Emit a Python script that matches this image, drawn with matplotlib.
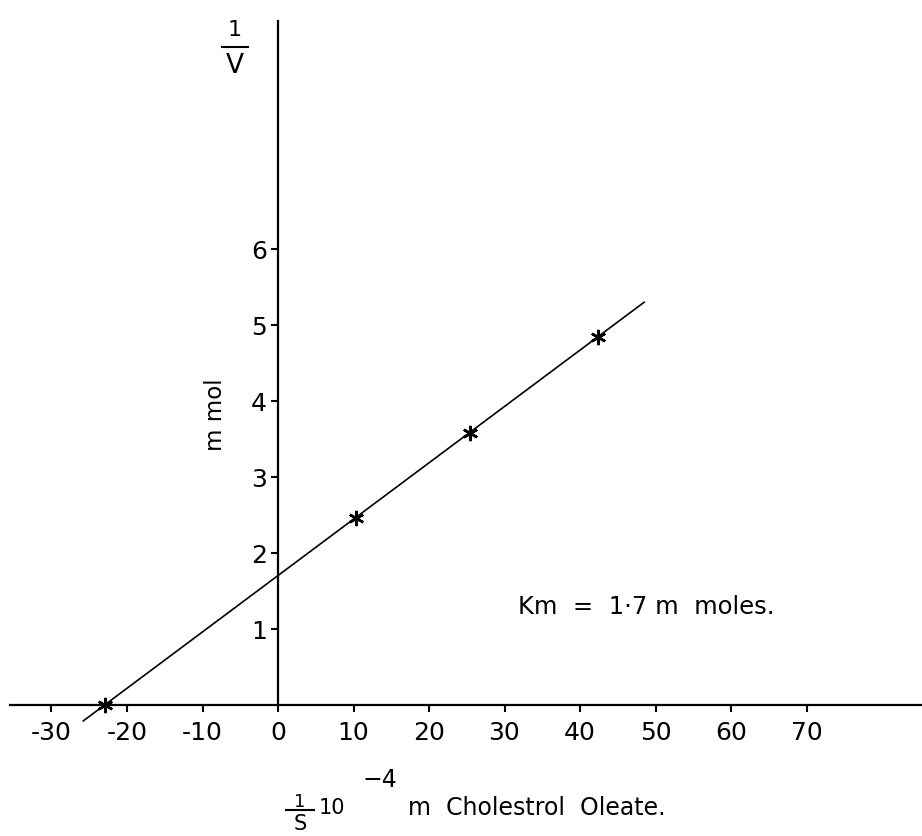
import matplotlib
matplotlib.use("Agg")
import matplotlib.pyplot as plt
from matplotlib.lines import Line2D

# ---- data ----
x_points = [-22.9, 10.3, 25.4, 42.4]
y_points = [0.0, 2.46, 3.58, 4.84]
x_line = [-25.8, 48.5]
y_line = [-0.21, 5.30]
x_ticks = [-30, -20, -10, 0, 10, 20, 30, 40, 50, 60, 70]
x_tick_labels = ["-30", "-20", "-10", "0", "10", "20", "30", "40", "50", "60", "70"]
y_ticks = [1, 2, 3, 4, 5, 6]
y_tick_labels = ["1", "2", "3", "4", "5", "6"]
km_text = "Km  =  1·7 m  moles."
y_unit = "m mol"
x_label_main = "m  Cholestrol  Oleate."

W, H = 922, 837
plt.rcParams['font.family'] = ['DejaVu Sans']
fig = plt.figure(figsize=(W / 100, H / 100), dpi=100)
ax = fig.add_axes([0, 0, 1, 1])

# pixel mapping: origin at (278, 706) px, 7.55 px per x unit, 76 px per y unit
x0, y0, sx, sy = 278.0, 706.0, 7.55, 76.0
ax.set_xlim(-x0 / sx, (W - x0) / sx)
ax.set_ylim(-(H - y0) / sy, y0 / sy)

def fx(px):
    return px / W

def fy(py):
    return 1 - py / H

for s in ['top', 'right']:
    ax.spines[s].set_visible(False)
ax.spines['left'].set_position(('data', 0))
ax.spines['bottom'].set_position(('data', 0))
ax.spines['left'].set_bounds(0, (y0 - 22) / sy)
ax.spines['bottom'].set_bounds((10 - x0) / sx, (W - x0) / sx)
ax.spines['left'].set_linewidth(1.6)
ax.spines['bottom'].set_linewidth(1.6)

ax.set_xticks(x_ticks)
ax.set_xticklabels(x_tick_labels)
ax.set_yticks(y_ticks)
ax.set_yticklabels(y_tick_labels)
ax.tick_params(axis='x', direction='out', length=5, width=1.5, pad=6, labelsize=18)
ax.tick_params(axis='y', direction='out', length=5, width=1.5, pad=3, labelsize=18)

ax.plot(x_line, y_line, color='black', linewidth=1.2)
ax.plot(x_points, y_points, linestyle='none', marker=(6, 2, 0), markersize=11,
        markeredgewidth=1.8, color='black')

# Km annotation
fig.text(fx(518), fy(607), km_text, fontsize=17.5, ha='left', va='center')

# y unit label
fig.text(fx(215), fy(415), y_unit, fontsize=16.5, rotation=90, ha='center', va='center')

# 1/V at top of y axis
fig.text(fx(235), fy(30), "1", fontsize=16, ha='center', va='center')
fig.add_artist(Line2D([fx(222), fx(248)], [fy(48), fy(48)], color='black', linewidth=1.5))
fig.text(fx(235), fy(66), "V", fontsize=19, ha='center', va='center')

# x-axis label: 1/S 10^-4 m Cholestrol Oleate.
fig.text(fx(300), fy(802), "1", fontsize=13, ha='center', va='center')
fig.add_artist(Line2D([fx(286), fx(314)], [fy(811), fy(811)], color='black', linewidth=1.5))
fig.text(fx(300), fy(824), "S", fontsize=15, ha='center', va='center')
fig.text(fx(332), fy(808), "10", fontsize=15, ha='center', va='center')
fig.text(fx(380), fy(780), "−4", fontsize=17, ha='center', va='center')
fig.text(fx(408), fy(815), x_label_main, fontsize=17, ha='left', va='baseline')

fig.savefig("out.png", dpi=100)
